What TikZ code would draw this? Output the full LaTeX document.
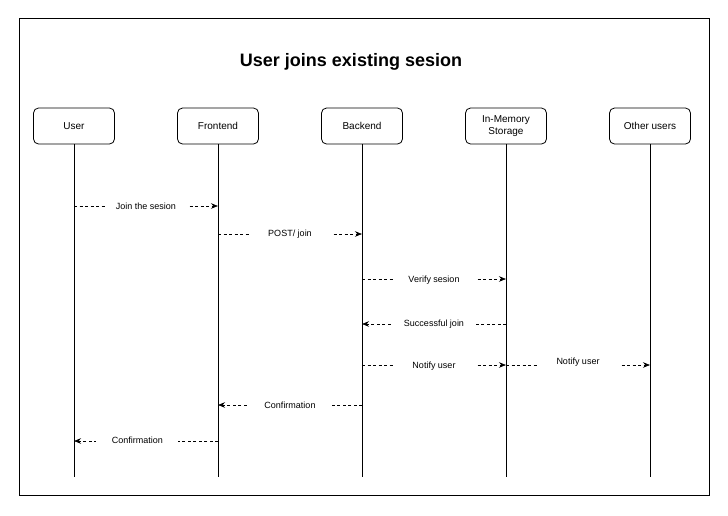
\documentclass[tikz,border=0pt]{standalone}
\usepackage{fontspec}
\setmainfont{Liberation Sans}
\usetikzlibrary{arrows.meta}

\tikzset{
  actor/.style={draw, rounded corners=5pt, minimum width=81pt, minimum height=36pt,
    align=center, font=\fontsize{10}{12}\selectfont, line width=0.8pt},
  msg/.style={dash pattern=on 3pt off 2.5pt, line width=0.75pt, -{Stealth[length=7pt,width=5.5pt]}},
  lbl/.style={fill=white, minimum width=82pt, inner sep=1pt, font=\fontsize{9}{11}\selectfont},
}

\begin{document}
\begin{tikzpicture}[x=1pt, y=-1pt]
  \useasboundingbox (0,0) rectangle (728,515);
  \draw[line width=1pt] (19,18) rectangle (709,495); % frame
  \node[font=\fontsize{18}{21}\selectfont\bfseries] (title) at (351,62) {User joins existing sesion}; % title

  \node[actor] (user) at (74,126) {User};
  \node[actor] (front) at (218,126) {Frontend};
  \node[actor] (back) at (362,126) {Backend};
  \node[actor] (store) at (506,126) {In-Memory\\Storage};
  \node[actor] (others) at (650,126) {Other users};

  % lifelines
  \foreach \n/\x in {user/74, front/218, back/362, store/506, others/650} {
    \coordinate (\n End) at (\x,477);
    \draw[line width=0.75pt] (\n) -- (\n End);
  }

  \draw[msg] (user |- 0,206) -- (front |- 0,206)
    node[midway, lbl]{Join the sesion}; % User -> Frontend
  \draw[msg] (front |- 0,234) -- (back |- 0,234)
    node[midway, lbl]{POST/ join}; % Frontend -> Backend
  \draw[msg] (back |- 0,279) -- (store |- 0,279)
    node[midway, lbl, yshift=-1.5pt]{Verify sesion}; % Backend -> Storage
  \draw[msg] (store |- 0,324) -- (back |- 0,324)
    node[midway, lbl]{Successful join}; % Storage -> Backend
  \draw[msg] (back |- 0,365) -- (store |- 0,365)
    node[midway, lbl, yshift=-1pt]{Notify user}; % Backend -> Storage
  \draw[msg] (store |- 0,365) -- (others |- 0,365)
    node[midway, lbl, yshift=2.5pt]{Notify user}; % Storage -> Other users
  \draw[msg] (back |- 0,405) -- (front |- 0,405)
    node[midway, lbl]{Confirmation}; % Backend -> Frontend
  \draw[msg] (front |- 0,441) -- (user |- 0,441)
    node[pos=0.56, lbl, yshift=1pt]{Confirmation}; % Frontend -> User
\end{tikzpicture}
\end{document}
